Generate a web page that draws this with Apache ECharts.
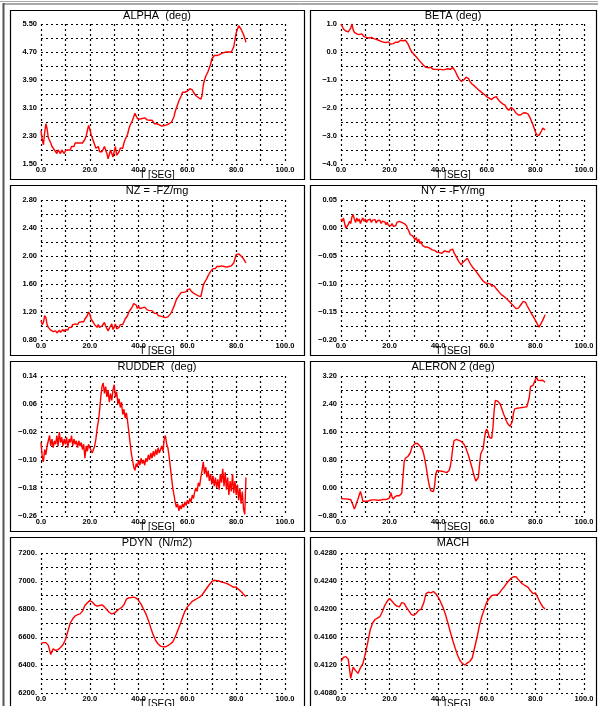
<!DOCTYPE html>
<html><head><meta charset="utf-8">
<script src="https://cdn.jsdelivr.net/npm/echarts@6/dist/echarts.min.js"></script>
<style>html,body{margin:0;padding:0;background:#fff}#c{width:598px;height:706px}</style>
</head><body><div id="c"></div>
<script>
// ---------- DATA ----------
const T_HALF = [
0,0.5,1,1.5,2,2.5,3,3.5,4,4.5,
5,5.5,6,6.5,7,7.5,8,8.5,9,9.5,
10,10.5,11,11.5,12,12.5,13,13.5,14,14.5,
15,15.5,16,16.5,17,17.5,18,18.5,19,19.5,
20,20.5,21,21.5,22,22.5,23,23.5,24,24.5,
25,25.5,26,26.5,27,27.5,28,28.5,29,29.5,
30,30.5,31,31.5,32,32.5,33,33.5,34,34.5,
35,35.5,36,36.5,37,37.5,38,38.5,39,39.5,
40,40.5,41,41.5,42,42.5,43,43.5,44,44.5,
45,45.5,46,46.5,47,47.5,48,48.5,49,49.5,
50,50.5,51,51.5,52,52.5,53,53.5,54,54.5,
55,55.5,56,56.5,57,57.5,58,58.5,59,59.5,
60,60.5,61,61.5,62,62.5,63,63.5,64,64.5,
65,65.5,66,66.5,67,67.5,68,68.5,69,69.5,
70,70.5,71,71.5,72,72.5,73,73.5,74,74.5,
75,75.5,76,76.5,77,77.5,78,78.5,79,79.5,
80,80.5,81,81.5,82,82.5,83,83.5,84];
const T_ONE = [
0,1,2,3,4,5,6,7,8,9,
10,11,12,13,14,15,16,17,18,19,
20,21,22,23,24,25,26,27,28,29,
30,31,32,33,34,35,36,37,38,39,
40,41,42,43,44,45,46,47,48,49,
50,51,52,53,54,55,56,57,58,59,
60,61,62,63,64,65,66,67,68,69,
70,71,72,73,74,75,76,77,78,79,
80,81,82,83,84];

const ALPHA = [
2.45,2.2,2.05,2.4,2.65,2.5,2.25,2.2,2.1,2.0,
1.95,1.9,1.85,1.8,1.9,1.85,1.8,1.9,1.85,1.8,
1.88,1.85,1.9,1.95,1.9,2.0,2.05,2.0,2.1,2.05,
2.1,2.05,2.1,2.15,2.1,2.15,2.2,2.3,2.45,2.6,
2.5,2.35,2.25,2.2,2.05,1.95,1.9,2.0,1.85,1.8,
1.85,1.9,2.0,1.95,1.8,1.65,1.6,1.9,1.95,1.7,
1.75,2.0,1.75,1.8,1.85,1.95,2.0,1.95,2.1,2.2,
2.25,2.35,2.5,2.6,2.65,2.75,2.85,2.95,2.9,2.8,
2.85,2.78,2.82,2.8,2.78,2.82,2.8,2.76,2.78,2.75,
2.72,2.75,2.7,2.65,2.62,2.65,2.6,2.62,2.6,2.58,
2.62,2.6,2.58,2.62,2.6,2.65,2.62,2.7,2.75,2.85,
3.0,3.1,3.2,3.3,3.35,3.45,3.55,3.5,3.55,3.6,
3.58,3.62,3.65,3.7,3.62,3.55,3.5,3.45,3.42,3.4,
3.38,3.35,3.45,3.75,3.9,4.0,4.05,4.15,4.25,4.35,
4.5,4.55,4.6,4.62,4.6,4.65,4.62,4.65,4.66,4.65,
4.68,4.66,4.7,4.68,4.7,4.72,4.7,4.75,4.85,5.05,
5.25,5.35,5.45,5.4,5.35,5.3,5.2,5.1,4.98];

const BETA = [
1.0,0.92,0.82,0.85,0.75,0.8,0.72,0.78,0.85,1.0,
0.8,0.7,0.72,0.65,0.7,0.62,0.6,0.65,0.58,0.55,
0.58,0.52,0.55,0.5,0.48,0.52,0.45,0.48,0.42,0.45,
0.4,0.42,0.36,0.38,0.32,0.35,0.3,0.34,0.3,0.36,
0.32,0.28,0.25,0.3,0.28,0.35,0.4,0.35,0.38,0.42,
0.36,0.4,0.38,0.42,0.35,0.3,0.2,0.1,0.02,-0.05,
-0.08,-0.12,-0.18,-0.2,-0.28,-0.3,-0.38,-0.42,-0.48,-0.5,
-0.55,-0.52,-0.56,-0.58,-0.55,-0.6,-0.62,-0.58,-0.62,-0.66,
-0.62,-0.65,-0.62,-0.68,-0.64,-0.66,-0.62,-0.66,-0.6,-0.64,
-0.62,-0.58,-0.55,-0.6,-0.68,-0.78,-0.85,-0.95,-1.02,-1.05,
-0.98,-1.0,-0.95,-0.9,-0.88,-0.95,-1.05,-1.1,-1.15,-1.18,
-1.22,-1.25,-1.3,-1.32,-1.38,-1.4,-1.45,-1.5,-1.52,-1.55,
-1.6,-1.62,-1.65,-1.68,-1.7,-1.65,-1.62,-1.58,-1.6,-1.68,
-1.75,-1.78,-1.8,-1.85,-1.88,-1.9,-1.98,-2.05,-2.08,-2.02,
-1.98,-2.0,-2.05,-2.1,-2.18,-2.22,-2.25,-2.22,-2.24,-2.2,
-2.18,-2.15,-2.17,-2.2,-2.22,-2.28,-2.38,-2.5,-2.6,-2.72,
-2.85,-2.95,-3.02,-2.98,-2.9,-2.82,-2.72,-2.7,-2.78];

const NZ = [
1.08,1.02,1.05,1.15,1.12,1.02,0.98,0.96,0.94,0.95,
0.92,0.9,0.93,0.9,0.92,0.94,0.91,0.93,0.95,0.92,
0.95,0.97,0.94,0.98,1.0,0.98,1.02,1.0,1.03,1.05,
1.02,1.05,1.04,1.06,1.08,1.06,1.1,1.12,1.15,1.2,
1.17,1.1,1.08,1.05,1.02,1.0,0.98,1.02,0.98,0.97,
1.0,1.02,1.05,1.0,0.98,0.93,0.92,1.0,1.03,0.95,
0.98,1.03,0.96,0.95,0.98,1.02,1.04,1.02,1.06,1.1,
1.12,1.15,1.2,1.22,1.25,1.28,1.32,1.34,1.3,1.25,
1.28,1.25,1.27,1.26,1.24,1.27,1.25,1.23,1.24,1.22,
1.2,1.22,1.2,1.18,1.17,1.18,1.15,1.16,1.14,1.15,
1.13,1.14,1.12,1.14,1.13,1.15,1.17,1.2,1.24,1.28,
1.33,1.38,1.4,1.43,1.45,1.48,1.46,1.48,1.5,1.49,
1.52,1.5,1.53,1.5,1.48,1.47,1.46,1.45,1.44,1.43,
1.44,1.42,1.5,1.58,1.62,1.65,1.68,1.72,1.75,1.78,
1.8,1.82,1.84,1.82,1.85,1.83,1.85,1.84,1.86,1.84,
1.85,1.86,1.84,1.86,1.85,1.87,1.86,1.88,1.9,1.96,
2.02,2.04,2.03,2.02,2.0,1.98,1.96,1.93,1.9];

const NY = [
0.016,0.012,0.018,0.008,0.0,-0.002,0.006,0.012,0.008,0.02,
0.024,0.016,0.01,0.018,0.012,0.016,0.008,0.014,0.018,0.012,
0.016,0.01,0.014,0.012,0.016,0.01,0.014,0.011,0.015,0.009,
0.013,0.01,0.014,0.008,0.012,0.009,0.011,0.006,0.01,0.005,
0.008,0.004,0.008,0.003,0.006,0.004,0.01,0.008,0.012,0.015,
0.01,0.013,0.008,0.01,0.004,-0.002,-0.006,-0.012,-0.015,-0.014,
-0.016,-0.021,-0.017,-0.025,-0.02,-0.028,-0.024,-0.031,-0.028,-0.034,
-0.031,-0.034,-0.033,-0.036,-0.037,-0.039,-0.037,-0.04,-0.041,-0.043,
-0.04,-0.044,-0.042,-0.045,-0.043,-0.041,-0.044,-0.042,-0.04,-0.043,
-0.039,-0.042,-0.038,-0.044,-0.048,-0.052,-0.056,-0.06,-0.063,-0.066,
-0.062,-0.06,-0.058,-0.056,-0.054,-0.058,-0.062,-0.066,-0.069,-0.072,
-0.074,-0.077,-0.08,-0.083,-0.085,-0.089,-0.092,-0.095,-0.096,-0.098,
-0.1,-0.099,-0.102,-0.1,-0.104,-0.101,-0.103,-0.106,-0.109,-0.112,
-0.114,-0.117,-0.119,-0.12,-0.122,-0.124,-0.126,-0.128,-0.13,-0.133,
-0.135,-0.137,-0.139,-0.142,-0.144,-0.146,-0.143,-0.14,-0.137,-0.134,
-0.131,-0.129,-0.133,-0.138,-0.142,-0.146,-0.15,-0.154,-0.157,-0.161,
-0.165,-0.169,-0.173,-0.177,-0.174,-0.169,-0.165,-0.162,-0.155];

const RUDDER = [
-0.05,-0.09,-0.105,-0.07,-0.085,-0.06,-0.045,-0.03,-0.06,-0.04,
-0.065,-0.045,-0.055,-0.03,-0.06,-0.02,-0.05,-0.035,-0.06,-0.04,
-0.055,-0.035,-0.065,-0.04,-0.05,-0.03,-0.06,-0.04,-0.055,-0.045,
-0.065,-0.045,-0.06,-0.05,-0.07,-0.055,-0.095,-0.06,-0.075,-0.055,
-0.065,-0.07,-0.08,-0.07,-0.06,-0.04,-0.01,0.01,0.04,0.08,
0.11,0.12,0.09,0.11,0.08,0.1,0.065,0.09,0.07,0.1,
0.115,0.08,0.095,0.06,0.075,0.05,0.065,0.03,0.045,0.02,
0.035,0.01,-0.02,-0.05,-0.08,-0.1,-0.12,-0.13,-0.11,-0.12,
-0.1,-0.115,-0.095,-0.11,-0.1,-0.115,-0.095,-0.105,-0.085,-0.1,
-0.08,-0.095,-0.075,-0.09,-0.07,-0.085,-0.065,-0.08,-0.07,-0.06,
-0.075,-0.04,-0.03,-0.055,-0.065,-0.09,-0.12,-0.15,-0.18,-0.2,
-0.22,-0.235,-0.225,-0.245,-0.23,-0.24,-0.225,-0.235,-0.22,-0.23,
-0.215,-0.225,-0.21,-0.22,-0.2,-0.21,-0.19,-0.18,-0.19,-0.165,
-0.175,-0.15,-0.13,-0.105,-0.14,-0.12,-0.15,-0.13,-0.16,-0.14,
-0.17,-0.145,-0.175,-0.15,-0.18,-0.155,-0.185,-0.14,-0.165,-0.125,
-0.175,-0.135,-0.185,-0.15,-0.2,-0.16,-0.19,-0.14,-0.195,-0.16,
-0.2,-0.17,-0.215,-0.18,-0.225,-0.19,-0.24,-0.255,-0.15];

const ALERON = [
-0.3,-0.3,-0.31,-0.3,-0.31,-0.3,-0.32,-0.31,-0.33,-0.38,
-0.5,-0.6,-0.52,-0.4,-0.32,-0.2,-0.1,-0.22,-0.38,-0.4,
-0.38,-0.37,-0.38,-0.36,-0.35,-0.36,-0.34,-0.35,-0.34,-0.35,
-0.35,-0.34,-0.35,-0.34,-0.33,-0.34,-0.33,-0.32,-0.32,-0.3,
-0.28,-0.13,-0.25,-0.32,-0.26,-0.22,-0.22,-0.23,-0.22,-0.22,
-0.15,0.3,0.75,0.85,0.88,0.9,0.92,1.0,1.12,1.2,
1.24,1.27,1.28,1.27,1.24,1.2,1.16,1.1,0.98,0.82,
0.62,0.4,0.18,0.02,-0.08,-0.11,-0.1,0.05,0.4,0.5,
0.48,0.49,0.5,0.48,0.47,0.46,0.45,0.44,0.44,0.5,
0.62,0.85,1.15,1.35,1.4,1.39,1.38,1.36,1.35,1.33,
1.3,1.26,1.2,1.12,1.02,0.92,0.8,0.68,0.56,0.42,
0.3,0.2,0.17,0.3,0.65,0.98,1.05,1.12,1.4,1.62,
1.68,1.6,1.45,1.4,1.42,1.7,2.2,2.5,2.52,2.48,
2.45,2.4,2.3,2.2,2.1,2.02,1.92,1.85,1.8,1.76,
1.75,1.9,2.15,2.26,2.27,2.28,2.28,2.29,2.29,2.3,
2.3,2.31,2.31,2.32,2.33,2.6,2.9,2.92,2.93,2.98,
3.1,3.16,3.08,3.05,3.07,3.06,3.08,3.05,3.02];

const PDYN = [
6555,6560,6560,6540,6475,6515,6505,6510,6525,6545,
6580,6640,6700,6730,6750,6760,6765,6785,6825,6845,
6860,6850,6830,6820,6825,6830,6815,6795,6775,6765,
6770,6785,6800,6810,6830,6870,6880,6882,6885,6878,
6860,6835,6800,6765,6720,6665,6615,6575,6550,6535,
6530,6530,6538,6550,6565,6600,6645,6690,6740,6785,
6815,6835,6855,6865,6875,6885,6900,6925,6950,6975,
6995,7005,7003,7000,6992,6988,6983,6975,6965,6955,
6958,6940,6925,6905,6888];

const MACH = [
0.4125,0.4131,0.4132,0.4128,0.4101,0.4117,0.4112,0.4108,0.4116,0.4122,
0.4136,0.4152,0.4170,0.4180,0.4185,0.4187,0.4189,0.4196,0.4205,0.4211,
0.4215,0.4211,0.4207,0.4204,0.4203,0.4209,0.4208,0.4202,0.4197,0.4192,
0.4191,0.4194,0.4198,0.4200,0.4208,0.4222,0.4224,0.4223,0.4225,0.4222,
0.4217,0.4210,0.4202,0.4192,0.4180,0.4167,0.4155,0.4144,0.4134,0.4126,
0.4122,0.4120,0.4123,0.4125,0.4130,0.4145,0.4160,0.4177,0.4190,0.4200,
0.4210,0.4215,0.4219,0.4220,0.4220,0.4222,0.4227,0.4231,0.4236,0.4240,
0.4244,0.4246,0.4246,0.4242,0.4238,0.4235,0.4233,0.4231,0.4226,0.4222,
0.4223,0.4216,0.4209,0.4203,0.4200];

// tick labels (bottom to top)
const X_TICKS = ['0.0','20.0','40.0','60.0','80.0','100.0'];
const ALPHA_TICKS  = ['1.50','2.30','3.10','3.90','4.70','5.50'];
const BETA_TICKS   = ['\u22124.0','\u22123.0','\u22122.0','\u22121.0','0.0','1.0'];
const NZ_TICKS     = ['0.80','1.20','1.60','2.00','2.40','2.80'];
const NY_TICKS     = ['\u22120.20','\u22120.15','\u22120.10','\u22120.05','0.00','0.05'];
const RUDDER_TICKS = ['\u22120.26','\u22120.18','\u22120.10','\u22120.02','0.06','0.14'];
const ALERON_TICKS = ['\u22120.80','0.00','0.80','1.60','2.40','3.20'];
const PDYN_TICKS   = ['6200.','6400.','6600.','6800.','7000.','7200.'];
const MACH_TICKS   = ['0.4080','0.4120','0.4160','0.4200','0.4240','0.4280'];

const TITLES = ['ALPHA  (deg)','BETA (deg)','NZ = -FZ/mg','NY = -FY/mg','RUDDER  (deg)','ALERON 2 (deg)','PDYN  (N/m2)','MACH'];
const X_NAME = 'T [SEG]';

const PANELS = [
  {t:T_HALF, v:ALPHA,  min:1.5,   max:5.5,   step:0.4,   ticks:ALPHA_TICKS},
  {t:T_HALF, v:BETA,   min:-4,    max:1,     step:0.5,   ticks:BETA_TICKS},
  {t:T_HALF, v:NZ,     min:0.8,   max:2.8,   step:0.2,   ticks:NZ_TICKS},
  {t:T_HALF, v:NY,     min:-0.2,  max:0.05,  step:0.025, ticks:NY_TICKS},
  {t:T_HALF, v:RUDDER, min:-0.26, max:0.14,  step:0.04,  ticks:RUDDER_TICKS},
  {t:T_HALF, v:ALERON, min:-0.8,  max:3.2,   step:0.4,   ticks:ALERON_TICKS},
  {t:T_ONE,  v:PDYN,   min:6200,  max:7200,  step:100,   ticks:PDYN_TICKS},
  {t:T_ONE,  v:MACH,   min:0.408, max:0.428, step:0.002, ticks:MACH_TICKS}
];

// ---------- LAYOUT / STYLE ----------
const PLOT_LEFT = [41, 341], PLOT_W = [244, 243];
const PLOT_TOP = [24, 200, 376, 553], PLOT_H = 140;
const BOX_X = [10, 310], BOX_W = [294, 286];
const BOX_Y = [10, 185, 361, 537], BOX_H = [169, 170, 170, 175];
const GRID_LINE = {color:'#000', type:[2,3], width:1.2};
const LABEL_FONT = {fontSize:7.5, fontWeight:'bold', color:'#000', fontFamily:'Liberation Sans'};

const chart = echarts.init(document.getElementById('c'), null, {renderer:'canvas'});
const grid = [], xAxis = [], yAxis = [], series = [], graphic = [];

// outer frame
graphic.push({type:'line', shape:{x1:0, y1:1.5, x2:598, y2:1.5}, style:{stroke:'#aaa', lineWidth:1}});
graphic.push({type:'line', shape:{x1:3.5, y1:3, x2:3.5, y2:706}, style:{stroke:'#555', lineWidth:2}});
graphic.push({type:'line', shape:{x1:3, y1:4, x2:598, y2:4}, style:{stroke:'#555', lineWidth:1}});

PANELS.forEach((p, i) => {
  const col = i % 2, row = Math.floor(i / 2);
  grid.push({left:PLOT_LEFT[col], top:PLOT_TOP[row], width:PLOT_W[col], height:PLOT_H, containLabel:false});
  xAxis.push({
    gridIndex:i, type:'value', min:0, max:100, interval:10,
    axisLine:{show:false}, axisTick:{show:false},
    splitLine:{show:true, lineStyle:GRID_LINE},
    axisLabel:Object.assign({margin:2, showMinLabel:true, showMaxLabel:true,
      formatter:v => { const k = Math.round(v/10); return k%2===0 ? X_TICKS[k/2] : ''; }}, LABEL_FONT)
  });
  yAxis.push({
    gridIndex:i, type:'value', min:p.min, max:p.max, interval:p.step,
    axisLine:{show:false}, axisTick:{show:false},
    splitLine:{show:true, lineStyle:GRID_LINE},
    axisLabel:Object.assign({margin:4, showMinLabel:true, showMaxLabel:true,
      formatter:v => { const k = Math.round((v - p.min)/p.step); return k%2===0 ? (p.ticks[k/2] || '') : ''; }}, LABEL_FONT)
  });
  series.push({
    type:'line', xAxisIndex:i, yAxisIndex:i, showSymbol:false, symbol:'none',
    data:p.t.map((x, j) => [x, p.v[j]]),
    lineStyle:{color:'#ff0000', width:1.4}, silent:true
  });
  const cx = BOX_X[col] + BOX_W[col]/2;
  graphic.push({type:'rect', shape:{x:BOX_X[col]+0.5, y:BOX_Y[row]+0.5, width:BOX_W[col], height:BOX_H[row]},
    style:{fill:'none', stroke:'#000', lineWidth:1.2}});
  graphic.push({type:'text', x:cx, y:BOX_Y[row]+5.5,
    style:{text:TITLES[i], align:'center', verticalAlign:'middle', fill:'#000', font:'11px "Liberation Sans"'}});
  graphic.push({type:'text', x:cx, y:PLOT_TOP[row]+PLOT_H+11.5,
    style:{text:X_NAME, align:'center', verticalAlign:'middle', fill:'#000', font:'10px "Liberation Sans"'}});
});

chart.setOption({animation:false, backgroundColor:'#fff', grid, xAxis, yAxis, series, graphic});
</script>
</body></html>
